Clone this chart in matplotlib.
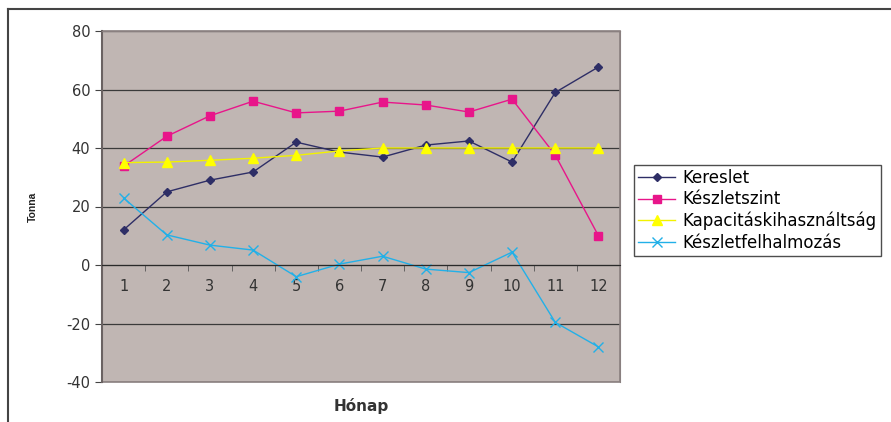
import matplotlib.pyplot as plt
import numpy as np
from matplotlib.lines import Line2D
from matplotlib.patches import Rectangle

plt.rcParams['font.family'] = ['DejaVu Sans']
plt.rcParams['axes.unicode_minus'] = False

# monthly data (tons)
months = list(range(1, 13))
kereslet = [12, 25, 29, 31.8, 42, 38.6, 36.9, 41, 42.4, 35.2, 59, 67.7]
keszletszint = [33.8, 44, 51, 56, 52, 52.6, 55.7, 54.7, 52.3, 56.7, 37.6, 10]
kapacitas = [35, 35.2, 35.8, 36.5, 37.5, 39, 40, 40, 40, 40, 40, 40]
felhalmozas = [22.9, 10.3, 6.8, 5.1, -4, 0.3, 3, -1.4, -2.6, 4.4, -19.6, -28]

fig = plt.figure(figsize=(8.91, 4.22), dpi=100)
ax = fig.add_axes([102/891, 40/422, 518/891, 351/422])
ax.set_facecolor('#C0B6B3')

ax.plot(months, kereslet, color='#2E2E66', marker='D', markersize=4.5, lw=1, label='Kereslet')
ax.plot(months, keszletszint, color='#E8158A', marker='s', markersize=6, lw=1, label='Készletszint')
ax.plot(months, kapacitas, color='#F2F200', marker='^', markersize=7, lw=1,
        markerfacecolor='#FFFF00', markeredgecolor='#FFFF00', label='Kapacitáskihasználtság')
ax.plot(months, felhalmozas, color='#22B0E8', marker='x', markersize=7, mew=1, lw=1,
        label='Készletfelhalmozás')

ax.set_xlim(0.5, 12.5)
ax.set_ylim(-40, 80)
ax.set_yticks(np.arange(-40, 81, 20))
ax.yaxis.grid(True, color='#3A3A3A', lw=0.9)
ax.set_axisbelow(True)

# category axis crosses at zero
ax.spines['bottom'].set_position(('data', 0))
ax.spines['bottom'].set_color('#2A2A2A')
for s in ['top', 'right']:
    ax.spines[s].set_color('#8A8080')
ax.spines['left'].set_color('#6A6262')
ax.spines['left'].set_linewidth(1.5)
ax.add_patch(Rectangle((0, 0), 1, 1, transform=ax.transAxes, fill=False,
                       edgecolor='#8A8080', lw=1.2, clip_on=False))

ax.set_xticks(months)
ax.set_xticks(np.arange(0.5, 12.6, 1), minor=True)
ax.tick_params(axis='x', which='major', length=0, pad=10, labelsize=10.5, labelcolor='#333333')
ax.tick_params(axis='x', which='minor', length=4, color='#555555', direction='out')
ax.tick_params(axis='y', length=5, color='#444444', labelsize=10.5, labelcolor='#333333')

ax.set_xlabel('Hónap', fontsize=11, fontweight='bold', color='#333333', labelpad=0)
ax.xaxis.set_label_coords(0.5, -0.045)
ax.set_ylabel('Tonna', fontsize=7.5, fontweight='bold', color='#222222',
              family='Liberation Sans')
ax.yaxis.set_label_coords(-0.123, 0.5)

leg = fig.legend(loc='upper left', bbox_to_anchor=(634/891, 1 - 165/422), fontsize=12,
                 frameon=True, fancybox=False, edgecolor='#222222', borderpad=0.25,
                 labelspacing=0.2, handlelength=2.2, handletextpad=0.45, borderaxespad=0)
leg.get_frame().set_linewidth(1)

# outer chart frame (left and top edges)
fig.add_artist(Line2D([8/891, 8/891], [0, 1 - 9/422], transform=fig.transFigure,
                      color='#444444', lw=1.5))
fig.add_artist(Line2D([8/891, 1], [1 - 9/422, 1 - 9/422], transform=fig.transFigure,
                      color='#444444', lw=1.5))

fig.savefig('out.png', dpi=100)
